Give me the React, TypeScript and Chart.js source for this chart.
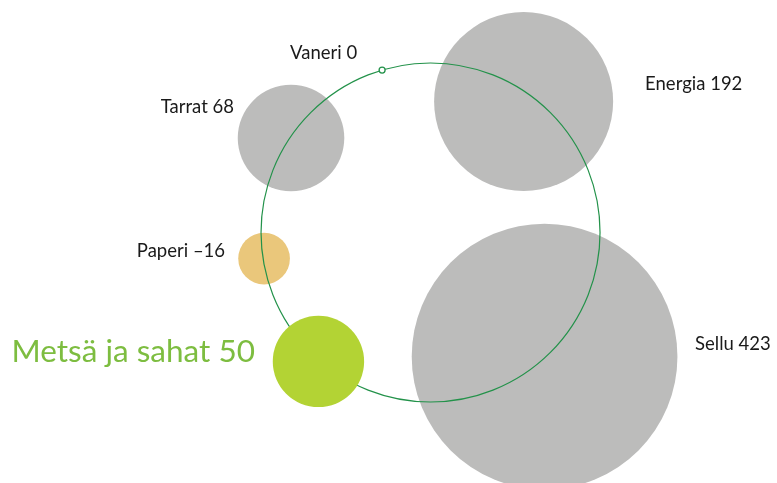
import { useEffect, useRef } from "react";
import { Chart, registerables } from "chart.js";

Chart.register(...registerables);

// ---- data ----
const categories = ["Sellu", "Energia", "Tarrat", "Vaneri", "Paperi", "Metsä ja sahat"];
const values = [423, 192, 68, 0, -16, 50];

// ---- layout (positions around the ring, in ring-radius units) ----
const angleDeg = [312.6, 54.6, 145.9, 106.6, 188.9, 229.0];
const ringDist = [0.994, 0.948, 0.994, 1.0, 0.994, 1.008];
const drawGroup = [0, 0, 0, 2, 0, 1]; // 0: under ring, 1: over ring, 2: marker on top
const fillColors = ["#bcbcbb", "#bcbcbb", "#bcbcbb", "#ffffff", "#eac77b", "#b3d334"];
const labelDx = [150.5, 121.5, -57, -25, -39, -63.5];
const labelDy = [-6.5, -11.5, -25, -11, -1.5, 0.5];
const labelAlign: CanvasTextAlign[] = ["left", "left", "right", "right", "right", "right"];
const labelFont = ["18.5px Lato", "18.5px Lato", "18.5px Lato", "18.5px Lato", "18.5px Lato", "31.5px Lato"];
const labelColor = ["#1a1a1a", "#1a1a1a", "#1a1a1a", "#1a1a1a", "#1a1a1a", "#7dbd40"];

const RING_COLOR = "#23924a";
const PX_PER_SQRT = 6.46;
const MIN_R = 3;
const X_MIN = -2.54;
const X_MAX = 2.044;
const Y_MIN = -1.478;
const Y_MAX = 1.372;

function fmt(v: number): string {
  return v < 0 ? "\u2013" + Math.abs(v) : String(v);
}

function pointFor(i: number) {
  const a = (angleDeg[i] * Math.PI) / 180;
  return {
    x: Math.cos(a) * ringDist[i],
    y: Math.sin(a) * ringDist[i],
    r: Math.max(MIN_R, PX_PER_SQRT * Math.sqrt(Math.abs(values[i]))),
  };
}

function buildDataset(group: number, order: number) {
  const idx = categories.map((_, i) => i).filter((i) => drawGroup[i] === group);
  return {
    label: "g" + group,
    data: idx.map((i) => pointFor(i)),
    backgroundColor: idx.map((i) => fillColors[i]),
    borderColor: idx.map((i) => (values[i] === 0 ? RING_COLOR : fillColors[i])),
    borderWidth: idx.map((i) => (values[i] === 0 ? 1.3 : 0)),
    clip: false,
    order,
  };
}

const ringPlugin = {
  id: "ringPlugin",
  afterDatasetDraw(chart: any, args: any) {
    if (args.meta.order !== 2) return;
    const xs = chart.scales.x;
    const ys = chart.scales.y;
    const cx = xs.getPixelForValue(0);
    const cy = ys.getPixelForValue(0);
    const r = xs.getPixelForValue(1) - cx;
    const ctx = chart.ctx;
    ctx.save();
    ctx.beginPath();
    ctx.arc(cx, cy, r, 0, Math.PI * 2);
    ctx.strokeStyle = RING_COLOR;
    ctx.lineWidth = 1.2;
    ctx.stroke();
    ctx.restore();
  },
};

const labelPlugin = {
  id: "labelPlugin",
  afterDraw(chart: any) {
    const xs = chart.scales.x;
    const ys = chart.scales.y;
    const ctx = chart.ctx;
    ctx.save();
    ctx.textBaseline = "alphabetic";
    categories.forEach((c, i) => {
      const p = pointFor(i);
      const px = xs.getPixelForValue(p.x);
      const py = ys.getPixelForValue(p.y);
      ctx.font = labelFont[i];
      ctx.fillStyle = labelColor[i];
      ctx.textAlign = labelAlign[i];
      ctx.fillText(c + " " + fmt(values[i]), px + labelDx[i], py + labelDy[i]);
    });
    ctx.restore();
  },
};

export default function App() {
  const canvasRef = useRef<HTMLCanvasElement | null>(null);

  useEffect(() => {
    if (!canvasRef.current) return;
    const chart = new Chart(canvasRef.current, {
      type: "bubble",
      data: {
        datasets: [buildDataset(2, 0), buildDataset(1, 1), buildDataset(0, 2)] as any,
      },
      options: {
        animation: false,
        responsive: true,
        maintainAspectRatio: false,
        events: [],
        layout: { padding: 0, autoPadding: false },
        plugins: {
          legend: { display: false },
          tooltip: { enabled: false },
        },
        scales: {
          x: { type: "linear", min: X_MIN, max: X_MAX, display: false },
          y: { type: "linear", min: Y_MIN, max: Y_MAX, display: false },
        },
      } as any,
      plugins: [ringPlugin, labelPlugin],
    });
    return () => chart.destroy();
  }, []);

  return (
    <div style={{ position: "absolute", left: 0, top: 0, width: 777, height: 483, background: "#ffffff" }}>
      <canvas ref={canvasRef} />
    </div>
  );
}
